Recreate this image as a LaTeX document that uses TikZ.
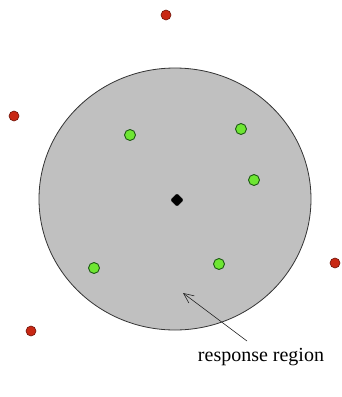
\documentclass[tikz,border=0pt]{standalone}
\usepackage{fontspec}
\setmainfont{Liberation Serif}
\usetikzlibrary{arrows.meta,shapes.geometric}
\definecolor{regiongray}{RGB}{192,192,192}
\definecolor{redpt}{RGB}{200,40,20}
\definecolor{redline}{RGB}{110,20,10}
\definecolor{greenpt}{RGB}{110,230,50}
\definecolor{greenline}{RGB}{30,90,20}
\tikzset{
  region/.style={draw=black!80, line width=0.8pt, fill=regiongray, ellipse},
  redpoint/.style={circle, fill=redpt, draw=redline, line width=0.6pt, inner sep=0pt, minimum size=10pt},
  greenpoint/.style={circle, fill=greenpt, draw=greenline, line width=0.9pt, inner sep=0pt, minimum size=11pt},
  centerpoint/.style={diamond, fill=black, draw=black, rounded corners=1.5pt, inner sep=0pt, minimum size=13pt},
  pointer/.style={draw=black!85, line width=0.6pt, -{Straight Barb[length=10pt,width=9pt]}},
  label/.style={font=\fontsize{20}{24}\selectfont, inner sep=0pt}
}
\begin{document}
\begin{tikzpicture}[x=1pt,y=-1pt]
\useasboundingbox (0,0) rectangle (342,397);
\node[region, minimum width=272pt, minimum height=262pt, inner sep=0pt] (reg) at (175,199) {};
\node[redpoint] (r1) at (166,15) {};
\node[redpoint] (r2) at (14,116) {};
\node[redpoint] (r3) at (335,263) {};
\node[redpoint] (r4) at (31,331) {};
\node[greenpoint] (g1) at (130,135) {};
\node[greenpoint] (g2) at (241,129) {};
\node[greenpoint] (g3) at (254,180) {};
\node[greenpoint] (g4) at (94,268) {};
\node[greenpoint] (g5) at (219,264) {};
\node[centerpoint] (c) at (177,200) {};
\node[label] (lab) at (261,357) {response region};
\coordinate (tip) at (183,293);
\coordinate (tail) at (247,341);
\draw[pointer] (tail) -- (tip);
\end{tikzpicture}
\end{document}
